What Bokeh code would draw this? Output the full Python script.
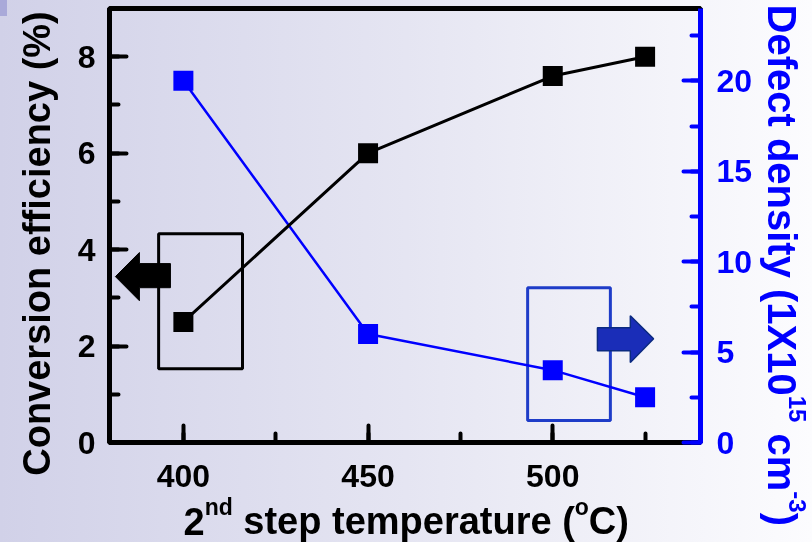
import math
import re
from bokeh.plotting import figure
from bokeh.models import Range1d, LinearAxis, SingleIntervalTicker, ColumnDataSource
from bokeh.core.properties import value
from bokeh.embed import file_html
from bokeh.resources import INLINE

# ---------------- data ----------------
temperature = [400, 450, 500, 525]          # 2nd step temperature (oC)
efficiency = [2.5, 6.0, 7.6, 8.0]           # conversion efficiency (%)
defect_density = [20.0, 6.0, 4.0, 2.5]      # defect density (1e15 cm^-3)

x_limits = [380, 540]
eff_limits = [0, 9]
def_limits = [0, 24]

# axis titles: (text, is_superscript)
x_title_parts = [("2", False), ("nd", True), (" step temperature (", False), ("o", True), ("C)", False)]
left_title = "Conversion efficiency (%)"
right_title_parts = [("Defect density (1X10", False), ("15", True), (" cm", False),
                     ("-3", True), (")", False)]

# marker boxes and arrows (data units)
eff_box_left, eff_box_right = [393.3], [416.0]
eff_box_bottom, eff_box_top = [1.53], [4.33]
def_box_left, def_box_right = [493.2], [515.6]
def_box_bottom, def_box_top = [1.22], [8.56]
eff_arrow_x = [381.6, 388.1, 388.1, 396.5, 396.5, 388.1, 388.1]
eff_arrow_y = [3.44, 3.94, 3.71, 3.71, 3.21, 3.21, 2.94]
def_arrow_x = [527.3, 521.0, 521.0, 512.1, 512.1, 521.0, 521.0]
def_arrow_y = [5.74, 7.01, 6.35, 6.35, 5.08, 5.08, 4.42]

# ---------------- layout ----------------
W_FIG, H_FIG = 812, 540
H_OVERLAY = 542
B_LEFT, B_RIGHT, B_TOP, B_BOTTOM = 109, 112, 8, 98
FONT = "Liberation Sans"
BLUE = "#0000ff"

p = figure(width=W_FIG, height=H_FIG,
           x_range=Range1d(*x_limits), y_range=Range1d(*eff_limits),
           output_backend="svg", toolbar_location=None,
           min_border_left=B_LEFT, min_border_right=B_RIGHT,
           min_border_top=B_TOP, min_border_bottom=B_BOTTOM)
p.extra_y_ranges = {"right": Range1d(*def_limits)}
p.xgrid.visible = False
p.ygrid.visible = False
p.background_fill_alpha = 0
p.border_fill_alpha = 0
p.outline_line_color = "black"
p.outline_line_width = 5
p.outline_line_alpha = 1

right_axis = LinearAxis(y_range_name="right")
p.add_layout(right_axis, "right")


def style_axis(ax, color, interval, standoff):
    ax.ticker = SingleIntervalTicker(interval=interval, num_minor_ticks=2)
    ax.axis_line_color = color
    ax.axis_line_width = 5
    ax.major_tick_line_color = color
    ax.major_tick_line_width = 4
    ax.major_tick_line_cap = "round"
    ax.major_tick_in = 17
    ax.major_tick_out = 0
    ax.minor_tick_line_color = color
    ax.minor_tick_line_width = 4
    ax.minor_tick_line_cap = "round"
    ax.minor_tick_in = 9
    ax.minor_tick_out = 0
    ax.major_label_text_font = FONT
    ax.major_label_text_font_style = "bold"
    ax.major_label_text_font_size = "32px"
    ax.major_label_text_color = color
    ax.major_label_standoff = standoff


style_axis(p.xaxis[0], "black", 50, 22)
style_axis(p.yaxis[0], "black", 2, 14)
style_axis(right_axis, BLUE, 5, 16)

p.quad(left=eff_box_left, right=eff_box_right, bottom=eff_box_bottom, top=eff_box_top,
       fill_alpha=0, line_color="black", line_width=3)
p.quad(left=def_box_left, right=def_box_right, bottom=def_box_bottom, top=def_box_top,
       y_range_name="right", fill_alpha=0, line_color="#1e3cc8", line_width=3)
p.patch(eff_arrow_x, eff_arrow_y, fill_color="black", line_color="black", line_width=1)
p.patch(def_arrow_x, def_arrow_y, y_range_name="right",
        fill_color="#1a2db8", line_color="#0b2a80", line_width=1.5)

p.line(temperature, defect_density, y_range_name="right", line_color=BLUE, line_width=2.5)
p.scatter(temperature, defect_density, y_range_name="right", marker="square", size=20,
          fill_color=BLUE, line_color=None)
p.line(temperature, efficiency, line_color="black", line_width=3)
p.scatter(temperature, efficiency, marker="square", size=20,
          fill_color="black", line_color=None)

# ---------------- axis titles: transparent overlay in page-pixel coordinates ----------------
ADV = {'2': 556, 'n': 611, 'd': 611, ' ': 278, 's': 556, 't': 333, 'e': 556, 'p': 611,
       'm': 889, 'r': 389, 'a': 556, 'u': 611, '(': 333, ')': 333, 'o': 611, 'C': 722,
       'D': 722, 'f': 333, 'c': 556, 'y': 556, 'i': 278, '1': 556, 'X': 667, '0': 556,
       '5': 556, '-': 333, '3': 556, '%': 889, 'v': 556}
SHIFT = 0.29   # bokeh draws "alphabetic" text this fraction of the size low


def tw(s, size):
    return sum(ADV.get(c, 556) for c in s) / 1000.0 * size


cols = dict(x=[], y=[], t=[], s=[], a=[], c=[])


def put(x, y, t, size, angle, color):
    cols["x"].append(x)
    cols["y"].append(y)
    cols["t"].append(t)
    cols["s"].append(f"{size}px")
    cols["a"].append(angle)
    cols["c"].append(color)


# x title: runs left to right, baselines at y=532 (main) and 513 (superscript)
pos = 183.0
for txt, sup in x_title_parts:
    sz = 23 if sup else 38
    lead = len(txt) - len(txt.lstrip(" "))
    pos += tw(" " * lead, sz)
    t = txt.strip(" ")
    base = 513 if sup else 532
    put(pos, base - SHIFT * sz, t, sz, 0.0, "black")
    pos += tw(t, sz)

# right title: runs top to bottom, baselines at x=770 (main) and 790 (superscript)
pos = 4.0
for txt, sup in right_title_parts:
    sz = 24 if sup else 40
    lead = len(txt) - len(txt.lstrip(" "))
    pos += tw(" " * lead, sz)
    t = txt.strip(" ")
    base = 790 if sup else 770
    put(base + SHIFT * sz, pos, t, sz, -math.pi / 2, BLUE)
    pos += tw(t, sz)

overlay = figure(width=W_FIG, height=H_OVERLAY,
                 x_range=Range1d(0, W_FIG), y_range=Range1d(H_OVERLAY, 0),
                 x_axis_type=None, y_axis_type=None,
                 output_backend="svg", toolbar_location=None,
                 min_border=0, min_border_left=0, min_border_right=0,
                 min_border_top=0, min_border_bottom=0)
overlay.background_fill_alpha = 0
overlay.border_fill_alpha = 0
overlay.outline_line_color = None
overlay.text(x="x", y="y", text="t", text_font_size="s", angle="a", text_color="c",
             source=ColumnDataSource(cols),
             text_font=value(FONT), text_font_style="bold",
             text_align="left", text_baseline="alphabetic")
# left title: reads bottom to top, centred at y=243, baseline at x=48
overlay.text(x=[48 - SHIFT * 38], y=[243], text=[left_title], angle=math.pi / 2,
             text_font=value(FONT), text_font_style="bold", text_font_size=value("38px"),
             text_color="black", text_align="center", text_baseline="alphabetic")

html = file_html([p, overlay], INLINE)


def wrap(m):
    return '<div style="position:absolute;left:0;top:0;">' + m.group(0) + '</div>'


html, n = re.subn(r'<div[^>]*style="display: contents;?"[^>]*>\s*</div>', wrap, html)
if n == 0:
    html, n = re.subn(r'<div[^>]*data-root-id="[^"]*"[^>]*>\s*</div>', wrap, html)

css = ("<style>html{background:linear-gradient(90deg,#d1d1e8 0%,#e5e5f2 50%,#fcfcfe 100%) fixed;"
       "min-height:100%;overflow:hidden;}body::before{content:'';position:fixed;left:0;top:0;width:7px;"
       "height:16px;background:#a9a9d9;}</style>")
html = html.replace("</head>", css + "</head>", 1)
open("out.html", "w").write(html)
